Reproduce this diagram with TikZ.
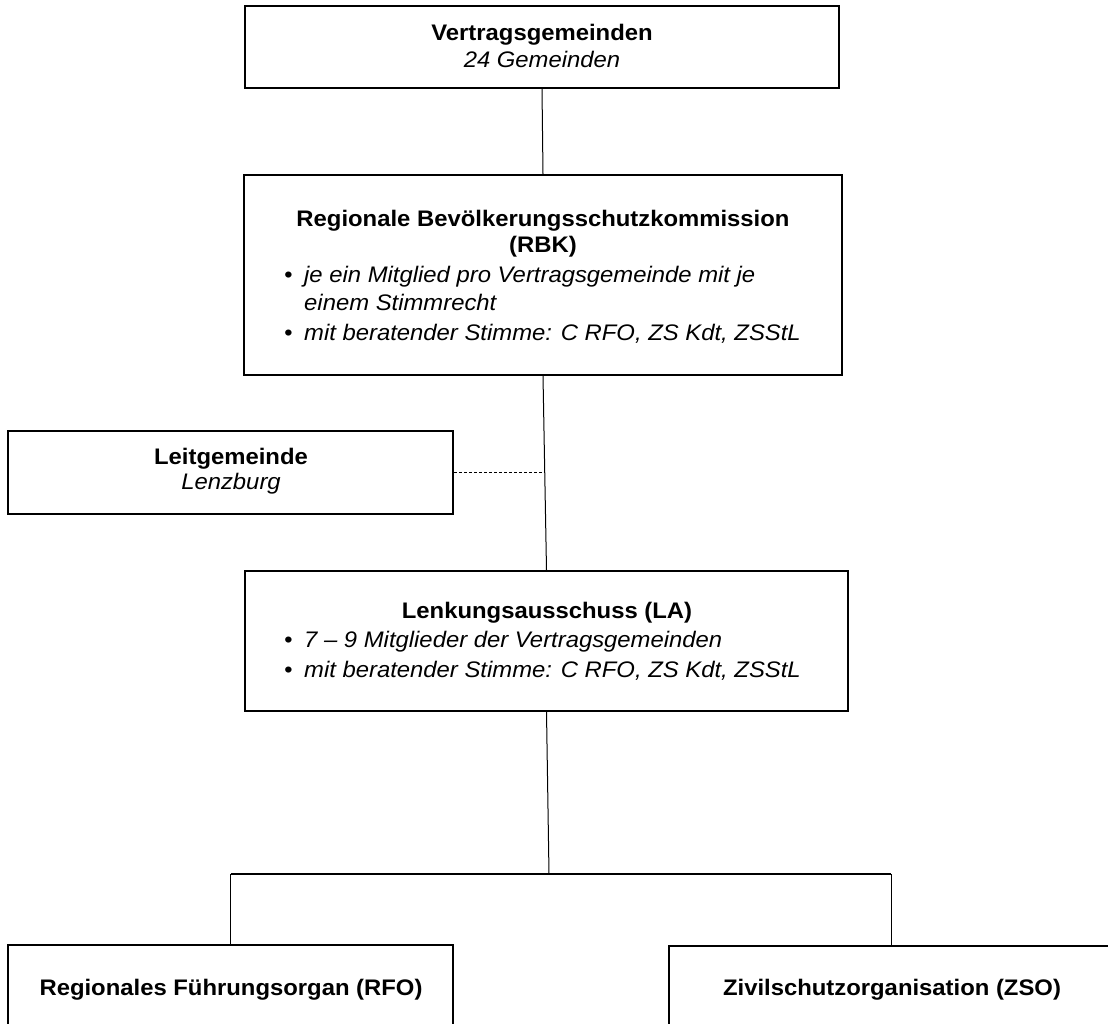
\documentclass[tikz,border=0pt]{standalone}
\usepackage{fontspec}
\setmainfont[FakeStretch=1.06]{Liberation Sans}
\begin{document}
\begin{tikzpicture}[x=1pt,y=-1pt,
  box/.style={draw,line width=1.7pt,inner sep=0pt},
  conn/.style={line width=1pt},
  bar/.style={line width=1.7pt},
  ttl/.style={font=\fontsize{22.5}{27}\selectfont\bfseries,inner sep=0pt,anchor=base},
  sub/.style={font=\fontsize{22.5}{27}\selectfont\itshape,inner sep=0pt,anchor=base},
  itm/.style={font=\fontsize{22.5}{27}\selectfont\itshape,inner sep=0pt,anchor=base west},
]
\useasboundingbox (0,0) rectangle (1108,1024);
\fill[white] (0,0) rectangle (1108,1024);

% boxes
\node[box,minimum width=594pt,minimum height=82pt] (vg) at (542,47) {};
\node[box,minimum width=598pt,minimum height=200pt] (rbk) at (543,275) {};
\node[box,minimum width=445pt,minimum height=83pt] (leit) at (230.5,472.5) {};
\node[box,minimum width=603pt,minimum height=140pt] (la) at (546.5,641) {};
\node[box,minimum width=445pt,minimum height=105pt] (rfo) at (230.5,997.5) {};
\node[box,minimum width=451pt,minimum height=104pt] (zso) at (894.5,998) {};

% texts
\node[ttl] (vgt) at (542,41) {Vertragsgemeinden};
\node[sub] (vgs) at (542,68) {24 Gemeinden};

\node[ttl] (rbkt) at (543,227) {Regionale Bevölkerungsschutzkommission};
\node[ttl] (rbkt2) at (543,253) {(RBK)};
\node[itm] (rbkb1) at (284,283) {•};
\node[itm] (rbki1) at (304,283) {je ein Mitglied pro Vertragsgemeinde mit je};
\node[itm] (rbki1b) at (304,310) {einem Stimmrecht};
\node[itm] (rbkb2) at (284,340) {•};
\node[itm] (rbki2) at (304,340) {mit beratender Stimme: C RFO, ZS Kdt, ZSStL};

\node[ttl] (leitt) at (231,464) {Leitgemeinde};
\node[sub] (leits) at (231,489) {Lenzburg};

\node[ttl] (lat) at (547,618) {Lenkungsausschuss (LA)};
\node[itm] (lab1) at (284,647) {•};
\node[itm] (lai1) at (304,647) {7 – 9 Mitglieder der Vertragsgemeinden};
\node[itm] (lab2) at (284,677) {•};
\node[itm] (lai2) at (304,677) {mit beratender Stimme: C RFO, ZS Kdt, ZSStL};

\node[ttl] (rfot) at (231,995) {Regionales Führungsorgan (RFO)};
\node[ttl] (zsot) at (892,995) {Zivilschutzorganisation (ZSO)};

% connectors
\coordinate (dj) at (544.5,472.5);
\coordinate (bus) at (549,874);
\coordinate (busL) at (230.5,874);
\coordinate (busR) at (891,874);

\draw[conn] (vg.south) -- (rbk.north);
\draw[conn] (rbk.south) -- (la.north);
\draw[conn,dash pattern=on 3pt off 2pt] (leit.east) -- (dj);
\draw[conn] (la.south) -- (bus);
\draw[bar] (busL) -- (busR);
\draw[conn] (busL) -- (rfo.north);
\draw[conn] (busR) -- (busR |- zso.north);
\end{tikzpicture}
\end{document}
